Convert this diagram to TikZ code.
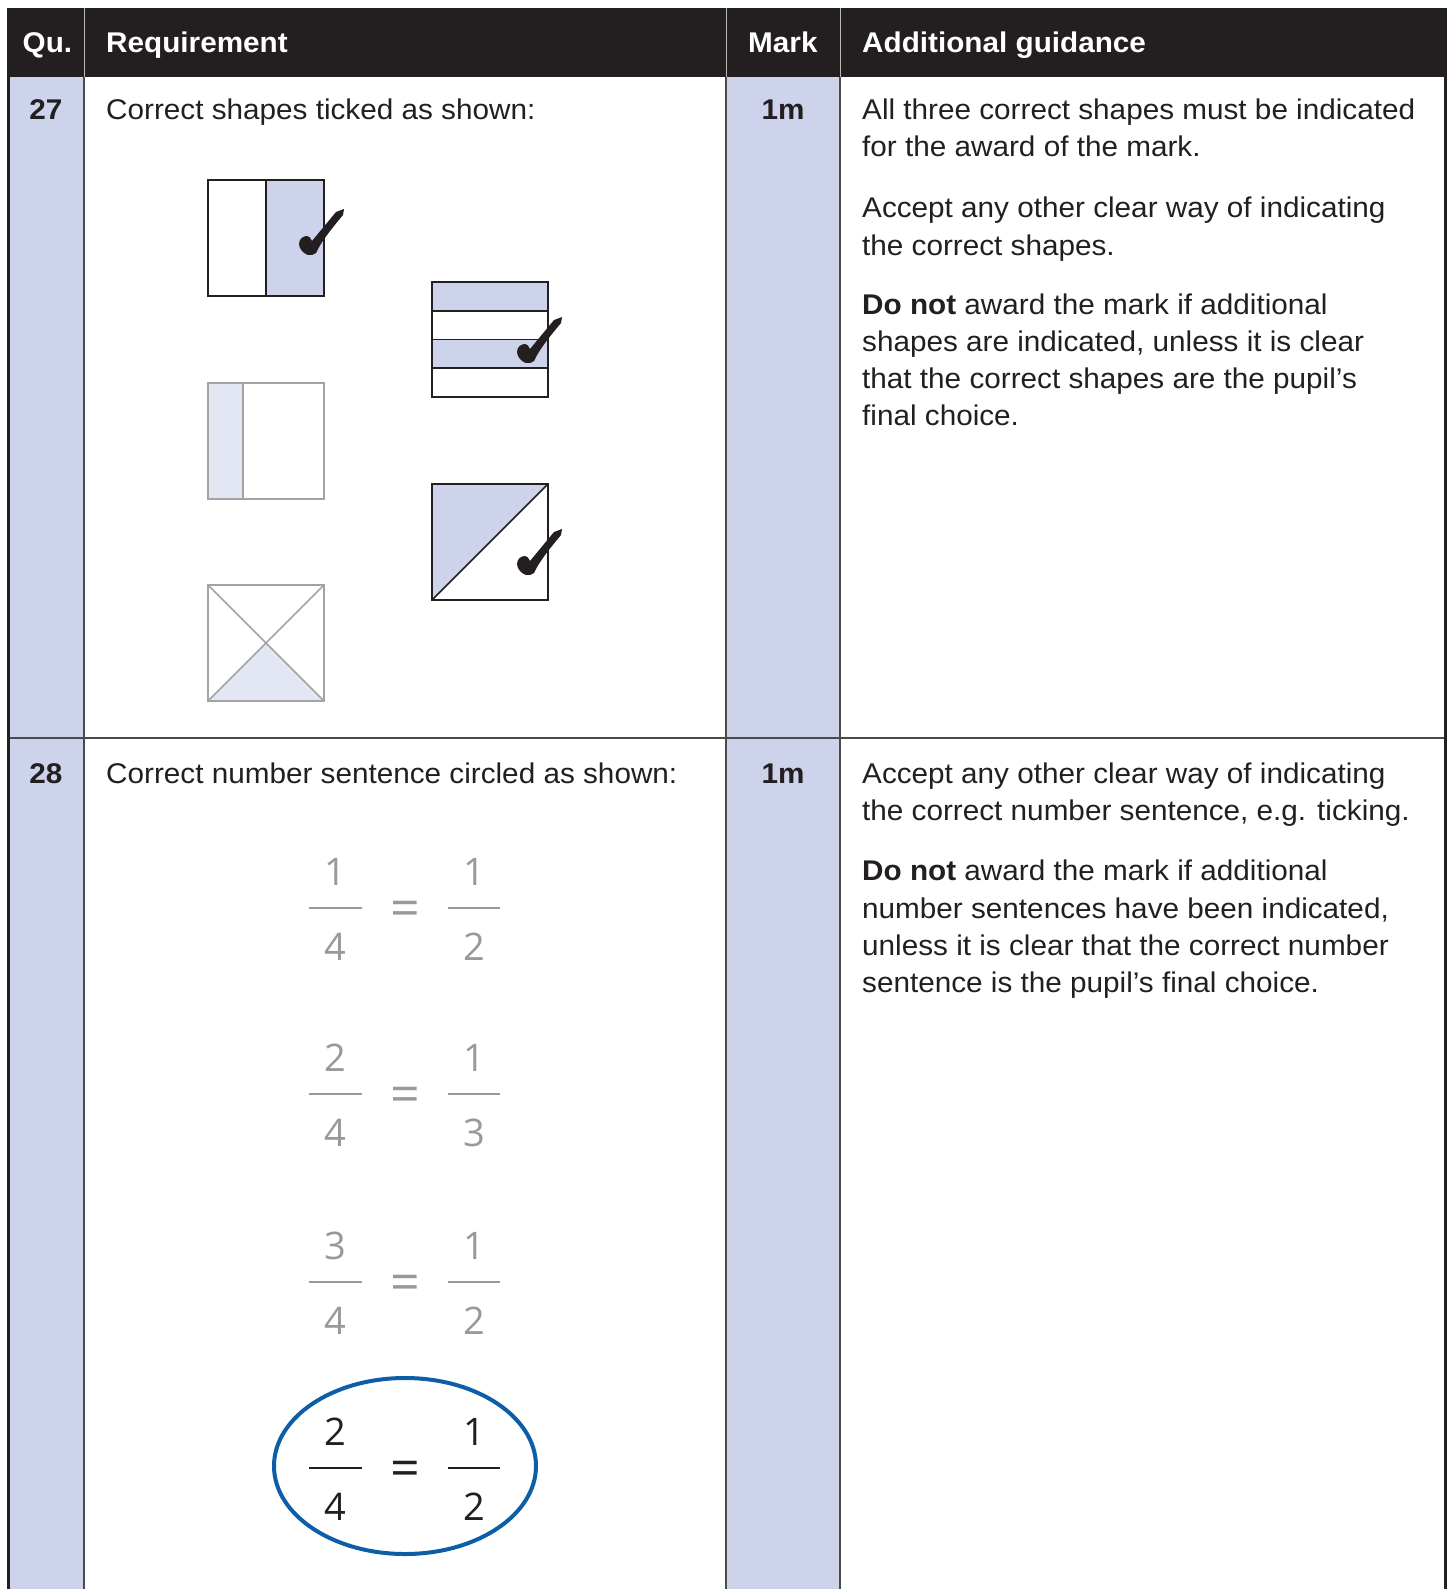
\documentclass[tikz,border=0pt]{standalone}
\usepackage{fontspec}
\setmainfont{Liberation Sans}[FakeStretch=1.042]
\newfontfamily\digitfont{Open Sans}
\usetikzlibrary{shapes.geometric}
\definecolor{ink}{HTML}{231F20}
\definecolor{lav}{HTML}{CDD3EB}
\definecolor{lavlight}{HTML}{E3E6F3}
\definecolor{shapegrey}{HTML}{A3A3A3}
\definecolor{fracgrey}{HTML}{97999C}
\definecolor{ringblue}{HTML}{0E5DA8}
\definecolor{rule}{HTML}{4A4A4A}
\newcommand\fracset[7]{%
  \node[dig,text=#7] (#1na) at (335.5,#2-23) {#3};
  \node[dig,text=#7] (#1da) at (335.5,#2+52) {#4};
  \node[dig,text=#7,font=\fontsize{52}{54}\selectfont\digitfont] (#1eq) at (405,#2+18) {=};
  \node[dig,text=#7] (#1nb) at (474,#2-23) {#5};
  \node[dig,text=#7] (#1db) at (474,#2+52) {#6};
  \coordinate (#1la) at (309,#2); \coordinate (#1ra) at (362,#2);
  \coordinate (#1lb) at (448,#2); \coordinate (#1rb) at (500,#2);
  \draw[#7,line width=2.5pt] (#1la) -- (#1ra) (#1lb) -- (#1rb);
}
\begin{document}
\begin{tikzpicture}[x=1pt,y=-1pt,
  txt/.style={anchor=base west, inner sep=0pt, text=ink, font=\fontsize{28.5}{37.5}\selectfont},
  hdr/.style={anchor=base west, inner sep=0pt, text=white, font=\fontsize{28.5}{37.5}\selectfont\bfseries},
  qnum/.style={anchor=base, inner sep=0pt, text=ink, font=\fontsize{28.5}{37.5}\selectfont\bfseries},
  dig/.style={anchor=base, inner sep=0pt, font=\fontsize{38}{40}\selectfont\digitfont},
  darkshape/.style={draw=ink, line width=1.6pt},
  greyshape/.style={draw=shapegrey, line width=1.6pt},
  tickmark/.pic={\fill[ink] (-10,-10) .. controls (-10,-15) and (-6,-18) .. (-2,-18)
      .. controls (0,-18) and (2,-16) .. (3,-13)
      -- (27,-42) -- (35,-45) -- (34,-39)
      .. controls (25,-28) and (13,-14) .. (7,-1)
      .. controls (5,1) and (2,1.5) .. (-1,1)
      .. controls (-5,0) and (-10,-5) .. (-10,-10) -- cycle;}
]
\useasboundingbox (0,0) rectangle (1451,1589);
% lavender columns
\fill[lav] (8,77) rectangle (84,1589);
\fill[lav] (726,77) rectangle (840,1589);
% header
\fill[ink] (8,8) rectangle (1446,77);
\draw[gray!55,line width=1pt] (84,8) -- (84,77) (726,8) -- (726,77) (840,8) -- (840,77);
% body rules
\draw[rule,line width=1.8pt] (84,77) -- (84,1589) (726,77) -- (726,1589) (840,77) -- (840,1589);
\draw[rule,line width=1.8pt] (8,738) -- (1445,738);
\draw[ink,line width=3pt] (8,8) -- (8,1589) (1445,8) -- (1445,1589);
% header text
\node[hdr] (hq) at (22.5,53) {Qu.};
\node[hdr] (hr) at (106,53) {Requirement};
\node[hdr] (hm) at (748,53) {Mark};
\node[hdr] (hg) at (862,53) {Additional guidance};
% row 27
\node[qnum] (q27) at (46,119.5) {27};
\node[qnum] (m27) at (783,119.5) {1m};
\node[txt] (r27) at (106,119.5) {Correct shapes ticked as shown:};
\node[txt] (g1) at (862,119.5) {All three correct shapes must be indicated};
\node[txt] (g2) at (862,157) {for the award of the mark.};
\node[txt] (g3) at (862,217.5) {Accept any other clear way of indicating};
\node[txt] (g4) at (862,255) {the correct shapes.};
\node[txt] (g5) at (862,314) {\textbf{Do not} award the mark if additional};
\node[txt] (g6) at (862,351) {shapes are indicated, unless it is clear};
\node[txt] (g7) at (862,388.5) {that the correct shapes are the pupil’s};
\node[txt] (g8) at (862,425.5) {final choice.};
% shapes
\fill[lav] (266,180) rectangle (324,296);
\draw[darkshape] (208,180) rectangle (324,296) (266,180) -- (266,296);
\fill[lav] (432,282) rectangle (548,310.75) (432,339.5) rectangle (548,368.25);
\draw[darkshape] (432,282) rectangle (548,397) (432,310.75) -- (548,310.75)
  (432,339.5) -- (548,339.5) (432,368.25) -- (548,368.25);
\fill[lavlight] (208,383) rectangle (243,499);
\draw[greyshape] (208,383) rectangle (324,499) (243,383) -- (243,499);
\fill[lav] (432,484) -- (548,484) -- (432,600) -- cycle;
\draw[darkshape] (432,484) rectangle (548,600) (432,600) -- (548,484);
\fill[lavlight] (208,701) -- (266,643) -- (324,701) -- cycle;
\draw[greyshape] (208,585) rectangle (324,701) (208,585) -- (324,701) (324,585) -- (208,701);
\pic at (309,254) {tickmark};
\pic at (527,362) {tickmark};
\pic at (527,574) {tickmark};
% row 28
\node[qnum] (q28) at (46,783) {28};
\node[qnum] (m28) at (783,783) {1m};
\node[txt] (r28) at (106,783) {Correct number sentence circled as shown:};
\node[txt] (h1) at (862,783) {Accept any other clear way of indicating};
\node[txt] (h2) at (862,820.5) {the correct number sentence, e.g. ticking.};
\node[txt] (h3) at (862,880.5) {\textbf{Do not} award the mark if additional};
\node[txt] (h4) at (862,918) {number sentences have been indicated,};
\node[txt] (h5) at (862,955.5) {unless it is clear that the correct number};
\node[txt] (h6) at (862,992) {sentence is the pupil’s final choice.};
% fractions
\fracset{fa}{908}{1}{4}{1}{2}{fracgrey}
\fracset{fb}{1094}{2}{4}{1}{3}{fracgrey}
\fracset{fc}{1282}{3}{4}{1}{2}{fracgrey}
\fracset{fd}{1468}{2}{4}{1}{2}{ink}
\node[draw=ringblue, line width=4pt, ellipse, minimum width=262pt, minimum height=176pt, inner sep=0pt] (ring) at (405,1466) {};
\end{tikzpicture}
\end{document}
